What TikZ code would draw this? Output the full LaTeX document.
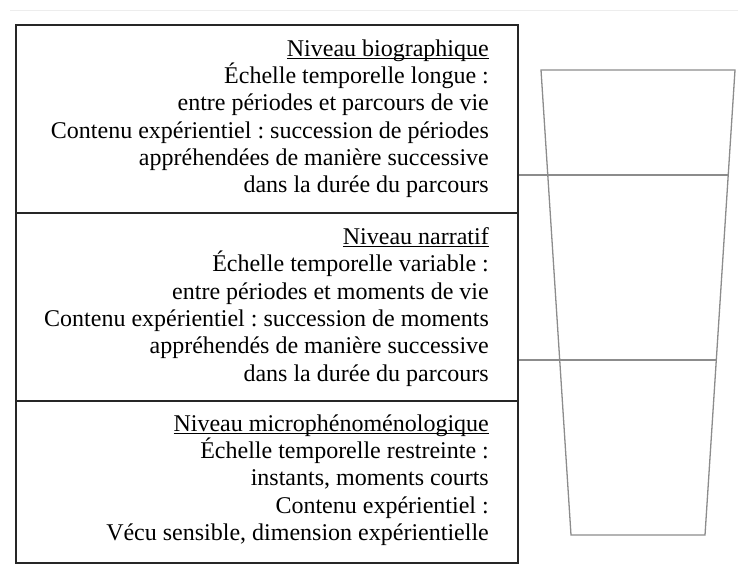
\documentclass[tikz,border=0pt]{standalone}
\usepackage{fontspec}
\setmainfont{Liberation Serif}
\usepackage{tikz}
\usetikzlibrary{calc}

\newsavebox{\soulbox}
\newcommand{\souligne}[1]{\sbox{\soulbox}{#1}\rlap{\rule[-2.6pt]{\wd\soulbox}{0.9pt}}\usebox{\soulbox}}

\begin{document}
\frenchspacing
\begin{tikzpicture}[x=1pt,y=1pt,
	level/.style={shape=rectangle,draw=black!85,line width=1.6pt,minimum width=502pt,inner sep=0pt},
	levtext/.style={anchor=north east,align=right,inner sep=0pt,font=\fontsize{24}{27.3}\selectfont},
	glass/.style={draw=black!45,line width=1.3pt}]
	\useasboundingbox (0,0) rectangle (738,574);
	\draw[black!7,line width=0.8pt] (10,564) -- (738,564);
	% the three levels
	\node[level,minimum height=188pt] (bio) at (267,455) {};
	\node[level,minimum height=188pt] (nar) at (267,267) {};
	\node[level,minimum height=162pt] (mic) at (267,92)  {};
	\node[levtext] (biotxt) at (489,534.5) {\souligne{Niveau biographique}\\
		Échelle temporelle longue :\\
		entre périodes et parcours de vie\\
		Contenu expérientiel : succession de périodes\\
		appréhendées de manière successive\\
		dans la durée du parcours};
	\node[levtext] (nartxt) at (489,346.5) {\souligne{Niveau narratif}\\
		Échelle temporelle variable :\\
		entre périodes et moments de vie\\
		Contenu expérientiel : succession de moments\\
		appréhendés de manière successive\\
		dans la durée du parcours};
	\node[levtext] (mictxt) at (489,159.5) {\souligne{Niveau microphénoménologique}\\
		Échelle temporelle restreinte :\\
		instants, moments courts\\
		Contenu expérientiel :\\
		Vécu sensible, dimension expérientielle};
	% the glass
	\coordinate (gtl) at (541,504);
	\coordinate (gtr) at (735,504);
	\coordinate (gbr) at (705,39);
	\coordinate (gbl) at (571,39);
	\draw[glass] (gtl) -- (gtr) -- (gbr) -- (gbl) -- cycle;
	\coordinate (g1) at ($(gtr)!0.2258!(gbr)$);
	\coordinate (g2) at ($(gtr)!0.6237!(gbr)$);
	\draw[glass] (bio.east |- g1) -- (g1);
	\draw[glass] (nar.east |- g2) -- (g2);
\end{tikzpicture}
\end{document}
